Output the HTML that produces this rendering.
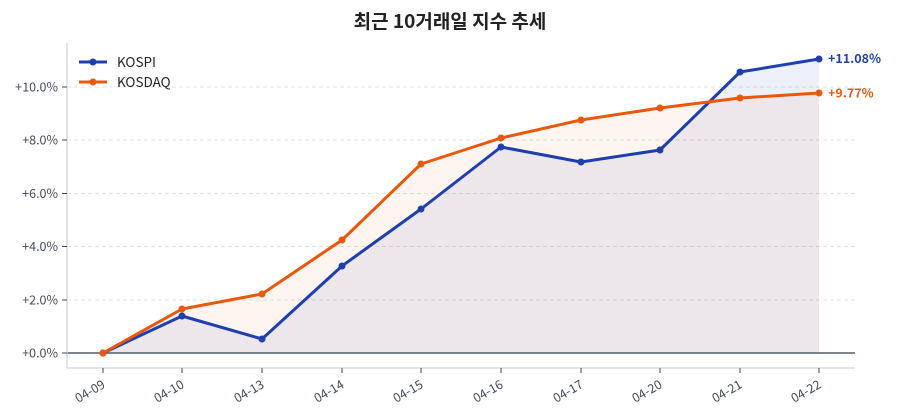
<!DOCTYPE html>
<html><head><meta charset="utf-8"><style>
html,body{margin:0;padding:0;background:#fff;}
svg{display:block;font-family:"Noto Sans CJK KR","Liberation Sans",sans-serif;}
</style></head><body>
<svg width="900" height="420" viewBox="0 0 900 420">
<text x="450" y="28" text-anchor="middle" font-size="19" font-weight="bold" fill="#222">최근 10거래일 지수 추세</text>
<g stroke="#e3e3e3" stroke-dasharray="4,3" stroke-width="1">
<line x1="67" x2="855" y1="87" y2="87"/><line x1="67" x2="855" y1="140" y2="140"/>
<line x1="67" x2="855" y1="193.5" y2="193.5"/><line x1="67" x2="855" y1="246.5" y2="246.5"/>
<line x1="67" x2="855" y1="300" y2="300"/>
</g>
<polygon fill="#1e40af" fill-opacity="0.08" points="103,353 182,316 262,339 342,266 421,209 501,147 581,162 660,150 740,72 819,59 819,353"/>
<polygon fill="#ea580c" fill-opacity="0.06" points="103,353 182,309 262,294 342,240 421,164 501,138 581,120 660,108 740,98 819,93 819,353"/>
<line x1="67" x2="855" y1="353" y2="353" stroke="#555a6a" stroke-width="1.5"/>
<line x1="67" x2="67" y1="43" y2="368" stroke="#d0d3dc" stroke-width="1.2"/>
<line x1="67" x2="855" y1="368" y2="368" stroke="#d0d3dc" stroke-width="1.2"/>
<g font-size="12.5" fill="#444b5a" text-anchor="end">
<text x="58" y="91.5">+10.0%</text><text x="58" y="144.5">+8.0%</text><text x="58" y="198">+6.0%</text>
<text x="58" y="251">+4.0%</text><text x="58" y="304.5">+2.0%</text><text x="58" y="357.5">+0.0%</text>
</g>
<g stroke="#444" stroke-width="1"><line x1="62" x2="67" y1="87" y2="87"/><line x1="62" x2="67" y1="140" y2="140"/><line x1="62" x2="67" y1="193.5" y2="193.5"/><line x1="62" x2="67" y1="246.5" y2="246.5"/><line x1="62" x2="67" y1="300" y2="300"/><line x1="62" x2="67" y1="353" y2="353"/></g>
<g stroke="#444" stroke-width="1">
<line x1="103" x2="103" y1="368" y2="373"/><line x1="182" x2="182" y1="368" y2="373"/><line x1="262" x2="262" y1="368" y2="373"/><line x1="342" x2="342" y1="368" y2="373"/><line x1="421" x2="421" y1="368" y2="373"/><line x1="501" x2="501" y1="368" y2="373"/><line x1="581" x2="581" y1="368" y2="373"/><line x1="660" x2="660" y1="368" y2="373"/><line x1="740" x2="740" y1="368" y2="373"/><line x1="819" x2="819" y1="368" y2="373"/>
</g>
<g font-size="12.5" fill="#444b5a" text-anchor="end">
<text transform="translate(106,387) rotate(-30)">04-09</text>
<text transform="translate(185,387) rotate(-30)">04-10</text>
<text transform="translate(265,387) rotate(-30)">04-13</text>
<text transform="translate(345,387) rotate(-30)">04-14</text>
<text transform="translate(424,387) rotate(-30)">04-15</text>
<text transform="translate(504,387) rotate(-30)">04-16</text>
<text transform="translate(584,387) rotate(-30)">04-17</text>
<text transform="translate(663,387) rotate(-30)">04-20</text>
<text transform="translate(743,387) rotate(-30)">04-21</text>
<text transform="translate(822,387) rotate(-30)">04-22</text>
</g>
<polyline fill="none" stroke="#1e40af" stroke-width="3" stroke-linejoin="round" points="103,353 182,316 262,339 342,266 421,209 501,147 581,162 660,150 740,72 819,59"/>
<g fill="#1e40af"><circle cx="103" cy="353" r="3.5"/><circle cx="182" cy="316" r="3.5"/><circle cx="262" cy="339" r="3.5"/><circle cx="342" cy="266" r="3.5"/><circle cx="421" cy="209" r="3.5"/><circle cx="501" cy="147" r="3.5"/><circle cx="581" cy="162" r="3.5"/><circle cx="660" cy="150" r="3.5"/><circle cx="740" cy="72" r="3.5"/><circle cx="819" cy="59" r="3.5"/></g>
<polyline fill="none" stroke="#ea580c" stroke-width="3" stroke-linejoin="round" points="103,353 182,309 262,294 342,240 421,164 501,138 581,120 660,108 740,98 819,93"/>
<g fill="#ea580c"><circle cx="103" cy="353" r="3.5"/><circle cx="182" cy="309" r="3.5"/><circle cx="262" cy="294" r="3.5"/><circle cx="342" cy="240" r="3.5"/><circle cx="421" cy="164" r="3.5"/><circle cx="501" cy="138" r="3.5"/><circle cx="581" cy="120" r="3.5"/><circle cx="660" cy="108" r="3.5"/><circle cx="740" cy="98" r="3.5"/><circle cx="819" cy="93" r="3.5"/></g>
<text x="828" y="63" font-size="12.5" font-weight="bold" fill="#1e40af">+11.08%</text>
<text x="828" y="97.5" font-size="12.5" font-weight="bold" fill="#ea580c">+9.77%</text>
<line x1="79" x2="107" y1="62" y2="62" stroke="#1e40af" stroke-width="3"/><circle cx="93" cy="62" r="3.5" fill="#1e40af"/>
<line x1="79" x2="107" y1="82" y2="82" stroke="#ea580c" stroke-width="3"/><circle cx="93" cy="82" r="3.5" fill="#ea580c"/>
<text x="117" y="67" font-size="13.5" fill="#222">KOSPI</text>
<text x="117" y="87" font-size="13.5" fill="#222">KOSDAQ</text>
</svg>
</body></html>
